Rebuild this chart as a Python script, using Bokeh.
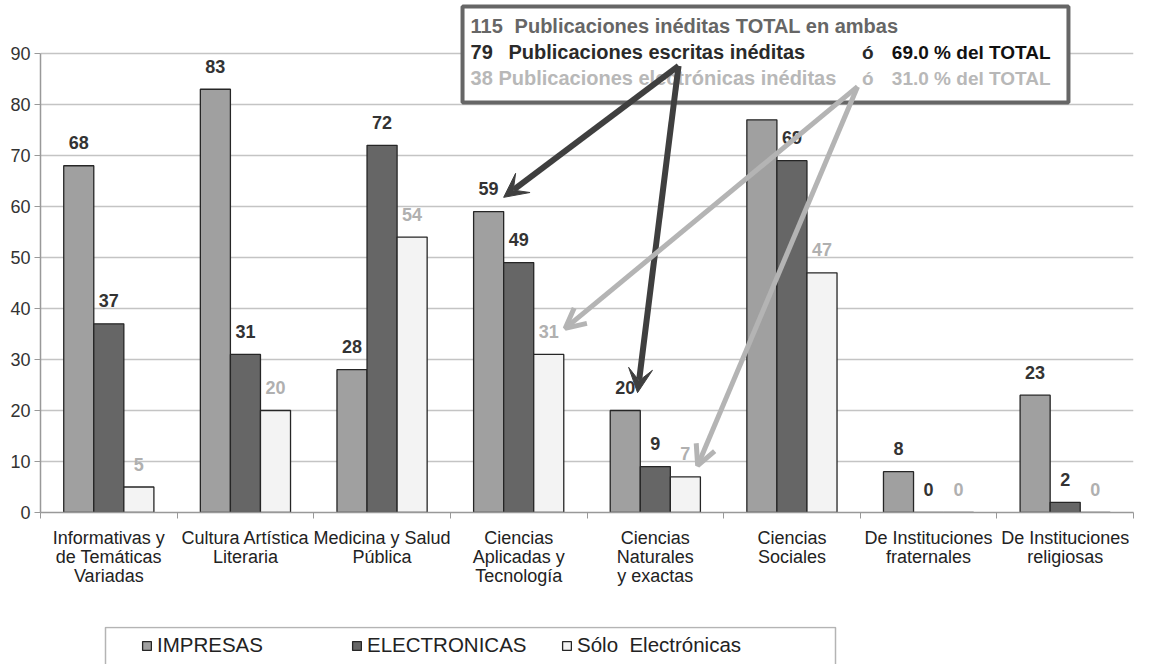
from bokeh.plotting import figure
from bokeh.layouts import column
from bokeh.models import (ColumnDataSource, Range1d, FixedTicker, LabelSet, Label,
                          BoxAnnotation, Arrow, VeeHead, OpenHead, Legend, LegendItem)
from bokeh.core.properties import value
from bokeh.embed import file_html
from bokeh.resources import INLINE

# ---------------- data ----------------
categories = [
    "Informativas y\nde Temáticas\nVariadas",
    "Cultura Artística\nLiteraria",
    "Medicina y Salud\nPública",
    "Ciencias\nAplicadas y\nTecnología",
    "Ciencias\nNaturales\ny exactas",
    "Ciencias\nSociales",
    "De Instituciones\nfraternales",
    "De Instituciones\nreligiosas",
]
impresas = [68, 83, 28, 59, 20, 77, 8, 23]
electronicas = [37, 31, 72, 49, 9, 69, 0, 2]
solo_electronicas = [5, 20, 54, 31, 7, 47, 0, 0]
impresas_labels = ["68", "83", "28", "59", "20", "", "8", "23"]
electronicas_labels = ["37", "31", "72", "49", "9", "69", "0", "2"]
solo_labels = ["5", "20", "54", "31", "7", "47", "0", "0"]
series_names = ["IMPRESAS", "ELECTRONICAS", "Sólo  Electrónicas"]
y_ticks = [0, 10, 20, 30, 40, 50, 60, 70, 80, 90]

box_line1 = ["115", "Publicaciones inéditas TOTAL en ambas"]
box_line2 = ["79", "Publicaciones escritas inéditas", "ó", "69.0 % del TOTAL"]
box_line3 = ["38 Publicaciones electrónicas inéditas", "ó", "31.0 % del TOTAL"]

# ---------------- styles ----------------
FONT = "Liberation Sans"
C_IMP = "#a0a0a0"
C_ELE = "#666666"
C_SOL = "#f3f3f3"
C_OUT = "#262626"
C_LAB_DARK = "#333333"
C_LAB_LIGHT = "#b0b0b0"
fills = [C_IMP, C_ELE, C_SOL]

n = len(categories)
centers = [i + 0.5 for i in range(n)]
bw = 0.22

p = figure(frame_width=1093, frame_height=512,
           output_backend="svg", toolbar_location=None,
           x_range=Range1d(0, n), y_range=Range1d(0, 100.4),
           min_border_left=40, min_border_right=20, min_border_top=0, min_border_bottom=114)
p.outline_line_color = None
p.background_fill_color = "white"
p.border_fill_color = "white"

src_imp = ColumnDataSource(dict(x=[c - bw for c in centers], top=impresas, lab=impresas_labels))
src_ele = ColumnDataSource(dict(x=centers, top=electronicas, lab=electronicas_labels))
src_sol = ColumnDataSource(dict(x=[c + bw for c in centers], top=solo_electronicas, lab=solo_labels))
sources = [src_imp, src_ele, src_sol]

for src, fc in zip(sources, fills):
    p.vbar(x="x", top="top", width=bw, source=src, fill_color=fc,
           line_color=C_OUT, line_width=1.3)

for src, col in zip(sources, (C_LAB_DARK, C_LAB_DARK, C_LAB_LIGHT)):
    p.add_layout(LabelSet(x="x", y="top", text="lab", source=src, y_offset=23,
                          text_align="center", text_baseline="middle",
                          text_font=value(FONT), text_font_size=value("18px"),
                          text_font_style=value("bold"), text_color=value(col)))

# axes
p.xgrid.visible = False
p.ygrid.ticker = FixedTicker(ticks=y_ticks)
p.ygrid.grid_line_color = "#c4c4c4"
p.ygrid.grid_line_width = 1.5

ya = p.yaxis[0]
ya.ticker = FixedTicker(ticks=y_ticks)
ya.bounds = (0, 90)
ya.axis_line_color = "#999999"
ya.axis_line_width = 1.5
ya.major_tick_line_color = "#999999"
ya.major_tick_out = 6
ya.major_tick_in = 0
ya.minor_tick_line_color = None
ya.major_label_standoff = 4
ya.major_label_text_font = FONT
ya.major_label_text_font_size = "18px"
ya.major_label_text_color = "#333333"

xa = p.xaxis[0]
xa.ticker = FixedTicker(ticks=centers, minor_ticks=list(range(n + 1)))
xa.major_label_overrides = {c: lab for c, lab in zip(centers, categories)}
xa.axis_line_color = "#999999"
xa.axis_line_width = 1.5
xa.major_tick_line_color = None
xa.minor_tick_line_color = "#999999"
xa.minor_tick_out = 6
xa.minor_tick_in = 0
xa.major_label_standoff = 9
xa.major_label_text_font = FONT
xa.major_label_text_font_size = "18px"
xa.major_label_text_line_height = 0.97
xa.major_label_text_color = "#222222"

# info box
p.add_layout(BoxAnnotation(left=3.089, right=7.524, bottom=80.4, top=99.2,
                           fill_color="white", fill_alpha=1.0,
                           line_color="#666666", line_alpha=1.0, line_width=4))

def lab(x, y, t, color, size, align="left"):
    p.add_layout(Label(x=x, y=y, text=t, text_font=FONT, text_font_size=size,
                       text_font_style="bold", text_color=color, text_align=align,
                       text_baseline="middle"))

lab(3.148, 95.4, box_line1[0], "#666666", "20px")
lab(3.470, 95.4, box_line1[1], "#666666", "20px")
lab(3.148, 90.3, box_line2[0], "#2a2a2a", "20px")
lab(3.425, 90.3, box_line2[1], "#2a2a2a", "20px")
lab(6.013, 90.3, box_line2[2], "#2a2a2a", "19px")
lab(7.393, 90.3, box_line2[3], "#111111", "19px", align="right")
lab(3.148, 85.2, box_line3[0], "#b8b8b8", "20px")
lab(6.013, 85.2, box_line3[1], "#b8b8b8", "19px")
lab(7.393, 85.2, box_line3[2], "#b8b8b8", "19px", align="right")

# arrows
DARK = "#3f3f3f"
LIGHT = "#b4b4b4"
for (x0, y0, x1, y1) in ((4.67, 87.6, 3.39, 61.8), (4.67, 87.6, 4.37, 23.5)):
    p.add_layout(Arrow(x_start=x0, y_start=y0, x_end=x1, y_end=y1,
                       line_color=DARK, line_width=6,
                       end=VeeHead(size=24, fill_color=DARK, line_color=DARK)))
for (x0, y0, x1, y1) in ((5.98, 83.5, 3.84, 36.1), (5.98, 83.5, 4.81, 9.2)):
    p.add_layout(Arrow(x_start=x0, y_start=y0, x_end=x1, y_end=y1,
                       line_color=LIGHT, line_width=5,
                       end=OpenHead(size=20, line_color=LIGHT, line_width=5)))

# ---------------- legend strip below the chart ----------------
LEG_H = 38
pl = figure(frame_width=1093, frame_height=LEG_H, output_backend="svg", toolbar_location=None,
            x_range=Range1d(40, 1133), y_range=Range1d(200, 200 + LEG_H),
            x_axis_type=None, y_axis_type=None,
            min_border_left=40, min_border_right=20, min_border_top=0, min_border_bottom=0)
pl.outline_line_color = None
pl.grid.visible = False
pl.add_layout(BoxAnnotation(left=105, right=835, bottom=195, top=200 + LEG_H - 1,
                            fill_color="white", fill_alpha=1.0,
                            line_color="#b4b4b4", line_alpha=1.0, line_width=1.5))
# same series (hidden) used only for the legend swatches
leg_renderers = [pl.vbar(x="x", top="top", width=bw, source=src, fill_color=fc,
                         line_color=C_OUT, line_width=1.3, visible=False)
                 for src, fc in zip(sources, fills)]
legend = Legend(items=[LegendItem(label=name, renderers=[r])
                       for name, r in zip(series_names, leg_renderers)],
                orientation="horizontal", location=(101, 7), margin=0, padding=8,
                spacing=12, label_width=182, glyph_width=11, glyph_height=11,
                label_standoff=5, label_text_font=FONT, label_text_font_size="20.5px",
                label_text_color="#222222", border_line_color=None,
                background_fill_alpha=0.0)
pl.add_layout(legend)

layout = column(p, pl, spacing=0)
open("out.html", "w").write(file_html(layout, INLINE))
